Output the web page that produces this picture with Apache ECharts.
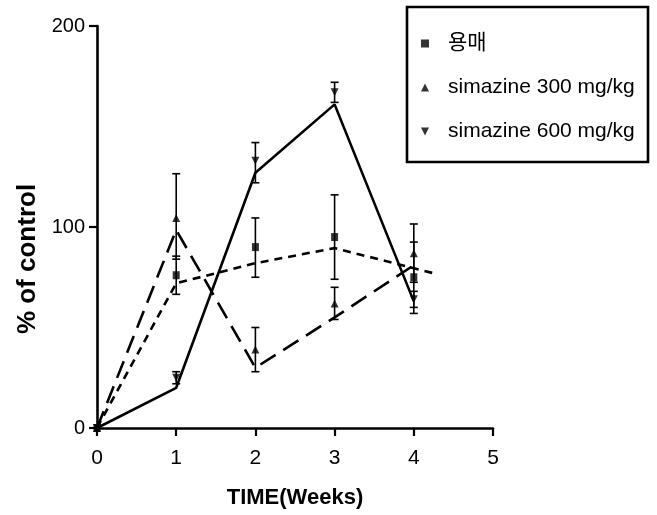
<!DOCTYPE html>
<html>
<head>
<meta charset="utf-8">
<script src="https://cdn.jsdelivr.net/npm/echarts@6/dist/echarts.min.js"></script>
<style>
html,body{margin:0;padding:0;background:#fff;}
#chart{width:657px;height:515px;}
</style>
</head>
<body>
<div id="chart"></div>
<script>
// ---- data ----
const weeks = [0, 1, 2, 3, 4];
const seriesNames = ['용매', 'simazine 300 mg/kg', 'simazine 600 mg/kg'];

// marker means
const vehicleMean = [0, 76, 90, 95, 75];
const sim300Mean  = [0, 104.5, 39, 62, 87];
const sim600Mean  = [0, 25, 133, 167, 64];

// error bar limits (low / high)
const vehicleLow  = [0, 66.5, 75, 74, 57];
const vehicleHigh = [0, 85.5, 104.5, 116, 92.5];
const sim300Low   = [0, 84, 28, 54, 72.5];
const sim300High  = [0, 126.5, 50, 70, 101.5];
const sim600Low   = [0, 22, 122, 162, 60];
const sim600High  = [0, 28, 142, 172, 68];

// connecting curves as drawn
const vehicleLineX = [0, 1, 2, 3, 4.25];
const vehicleLineY = [0, 72, 82, 89.5, 77];
const sim300LineX  = [0, 1, 2, 3, 4];
const sim300LineY  = [0, 98.5, 30, 55, 81];
const sim600LineX  = [0, 1, 2, 3, 4];
const sim600LineY  = [0, 20, 127, 161, 63];

const xTicks = [0, 1, 2, 3, 4, 5];
const yTicks = [0, 100, 200];

// ---- build ----
const FONT = '"Liberation Sans", Arial, "Noto Sans CJK KR", sans-serif';
const downTri = 'path://M0,0 L10,0 L5,10 Z';
const symbols = ['rect', 'triangle', downTri];
const means = [vehicleMean, sim300Mean, sim600Mean];
const lows = [vehicleLow, sim300Low, sim600Low];
const highs = [vehicleHigh, sim300High, sim600High];
const lineXs = [vehicleLineX, sim300LineX, sim600LineX];
const lineYs = [vehicleLineY, sim300LineY, sim600LineY];
const dashes = [[8, 6], [18, 9], 'solid'];

const zip = (a, b) => a.map((v, i) => [v, b[i]]);

const series = [];
for (let s = 0; s < 3; s++) {
  series.push({
    name: seriesNames[s] + ' line',
    type: 'line',
    data: zip(lineXs[s], lineYs[s]),
    symbol: 'none',
    lineStyle: { color: '#000', width: 2.6, type: dashes[s] },
    silent: true,
    z: 2
  });
  series.push({
    name: seriesNames[s] + ' err',
    type: 'custom',
    data: weeks.map((w, i) => [w, lows[s][i], highs[s][i]]).filter(d => d[2] > d[1]),
    renderItem: function (params, api) {
      const x = api.value(0);
      const lo = api.coord([x, api.value(1)]);
      const hi = api.coord([x, api.value(2)]);
      const cw = 4;
      const st = { stroke: '#000', lineWidth: 1.6 };
      return {
        type: 'group',
        children: [
          { type: 'line', shape: { x1: lo[0], y1: lo[1], x2: hi[0], y2: hi[1] }, style: st },
          { type: 'line', shape: { x1: lo[0] - cw, y1: lo[1], x2: lo[0] + cw, y2: lo[1] }, style: st },
          { type: 'line', shape: { x1: hi[0] - cw, y1: hi[1], x2: hi[0] + cw, y2: hi[1] }, style: st }
        ]
      };
    },
    silent: true,
    z: 3
  });
  series.push({
    name: seriesNames[s],
    type: 'scatter',
    data: zip(weeks, means[s]),
    symbol: symbols[s],
    symbolSize: s === 0 ? [7, 8] : 8,
    itemStyle: { color: '#000' },
    z: 4
  });
}

const chart = echarts.init(document.getElementById('chart'), null, { renderer: 'canvas' });
chart.setOption({
  animation: false,
  backgroundColor: '#fff',
  grid: { left: 97, right: 164, top: 26, bottom: 87 },
  xAxis: {
    type: 'value', min: 0, max: 5, interval: 1,
    name: 'TIME(Weeks)', nameLocation: 'middle', nameGap: 59,
    nameTextStyle: { fontFamily: FONT, fontWeight: 'bold', fontSize: 22, color: '#000' },
    axisLine: { lineStyle: { color: '#000', width: 2.6 } },
    axisTick: { length: 8, lineStyle: { color: '#000', width: 2.2 } },
    axisLabel: { fontFamily: FONT, fontSize: 21, color: '#000', margin: 20,
      formatter: v => xTicks.includes(v) ? String(v) : '' },
    splitLine: { show: false }
  },
  yAxis: {
    type: 'value', min: 0, max: 200, interval: 100,
    name: '% of control', nameLocation: 'middle', nameGap: 47, nameRotate: 90,
    nameTextStyle: { fontFamily: FONT, fontWeight: 'bold', fontSize: 26, color: '#000',
      padding: [0, 64, 0, 0] },
    axisLine: { lineStyle: { color: '#000', width: 2.6 } },
    axisTick: { length: 8, lineStyle: { color: '#000', width: 2.2 } },
    axisLabel: { fontFamily: FONT, fontSize: 20, color: '#000', margin: 12,
      formatter: v => yTicks.includes(v) ? String(v) : '' },
    splitLine: { show: false }
  },
  legend: {
    orient: 'vertical',
    left: 416, top: 28,
    itemWidth: 8, itemHeight: 8, itemGap: 23,
    data: [
      { name: seriesNames[0], icon: 'rect' },
      { name: seriesNames[1], icon: 'triangle' },
      { name: seriesNames[2], icon: downTri }
    ],
    textStyle: { fontFamily: FONT, fontSize: 21, color: '#000', padding: [0, 0, 0, 14] },
    itemStyle: { color: '#000' },
    selectedMode: false
  },
  graphic: [{
    type: 'rect',
    shape: { x: 407, y: 7, width: 241, height: 155 },
    style: { fill: 'none', stroke: '#000', lineWidth: 2.6 },
    z: 0
  }],
  series: series
});
</script>
</body>
</html>
